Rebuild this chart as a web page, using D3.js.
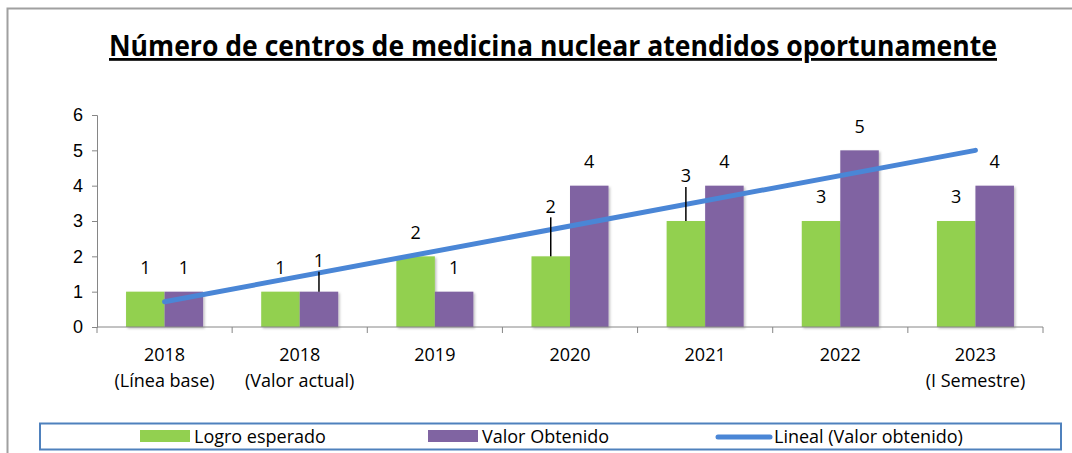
<!DOCTYPE html>
<html>
<head>
<meta charset="utf-8">
<script src="https://cdn.jsdelivr.net/npm/d3@7"></script>
<style>
  body { margin: 0; background: #fff; }
  svg { display: block; font-family: "Open Sans", "Noto Sans", sans-serif; }
</style>
</head>
<body>
<div id="chart"></div>
<script>
// Data
const categories = ["2018|(Línea base)", "2018|(Valor actual)", "2019", "2020", "2021", "2022", "2023|(I Semestre)"];
const logroEsperado = [1, 1, 2, 2, 3, 3, 3];
const valorObtenido = [1, 1, 1, 4, 4, 5, 4];
const yTicks = [0, 1, 2, 3, 4, 5, 6];
const seriesNames = ["Logro esperado", "Valor Obtenido", "Lineal (Valor obtenido)"];
const titleText = "Número de centros de medicina nuclear atendidos oportunamente";

const colors = { logro: "#92d050", valor: "#8064a2", trend: "#4a86d6", axis: "#868686" };

const width = 1072, height = 453;
const ctr = { left: 97, right: 1043, top: 115, bottom: 327 };

const svg = d3.select("#chart").append("svg").attr("width", width).attr("height", height);

// outer frame (top + left only visible)
svg.append("path")
  .attr("d", `M7.5,${height} V8.5 H${width}`)
  .attr("fill", "none").attr("stroke", "#a0a0a0").attr("stroke-width", 2);

// Title
svg.append("text")
  .attr("x", 553).attr("y", 56)
  .attr("text-anchor", "middle")
  .attr("textLength", 888).attr("lengthAdjust", "spacingAndGlyphs")
  .style("font-size", "28px").style("font-weight", "bold")
  .style("text-decoration", "underline")
  .text(titleText);

// Scales
const x0 = d3.scaleBand().domain(categories).range([ctr.left, ctr.right]).paddingInner(0.43).paddingOuter(0.215);
const x1 = d3.scaleBand().domain(["logro", "valor"]).range([0, x0.bandwidth()]);
const yScale = d3.scaleLinear().domain([0, 6]).range([ctr.bottom, ctr.top]);

const step = (ctr.right - ctr.left) / categories.length;
const center = (c) => x0(c) + x0.bandwidth() / 2;

// shadow filter for bars
const defs = svg.append("defs");
const f = defs.append("filter").attr("id", "shadow").attr("x", "-20%").attr("y", "-20%").attr("width", "150%").attr("height", "150%");
f.append("feDropShadow").attr("dx", 1.5).attr("dy", 1.5).attr("stdDeviation", 1.2).attr("flood-color", "#000").attr("flood-opacity", 0.25);

// Bars
const groups = svg.append("g").selectAll("g")
  .data(categories.map((c, i) => ({ c, logro: logroEsperado[i], valor: valorObtenido[i] })))
  .join("g")
  .attr("transform", (d) => `translate(${x0(d.c)},0)`);

groups.selectAll("rect")
  .data((d) => [{ k: "logro", v: d.logro }, { k: "valor", v: d.valor }])
  .join("rect")
  .attr("x", (d) => x1(d.k))
  .attr("y", (d) => yScale(d.v))
  .attr("width", x1.bandwidth())
  .attr("height", (d) => yScale(0) - yScale(d.v))
  .attr("fill", (d) => colors[d.k])
  .attr("filter", "url(#shadow)");

// Axes
const yAxis = d3.axisLeft(yScale).tickValues(yTicks).tickSize(5).tickPadding(9).tickFormat(d3.format("d"));
const yg = svg.append("g").attr("transform", `translate(${ctr.left},0)`).call(yAxis);
yg.selectAll("path, line").attr("stroke", colors.axis);
yg.selectAll("text").style("font-size", "18px").attr("fill", "#000");

const xg = svg.append("g").attr("transform", `translate(0,${ctr.bottom})`);
xg.append("line").attr("x1", ctr.left).attr("x2", ctr.right).attr("stroke", colors.axis);
xg.selectAll(".tick")
  .data(d3.range(categories.length + 1))
  .join("line")
  .attr("x1", (i) => ctr.left + i * step).attr("x2", (i) => ctr.left + i * step)
  .attr("y1", 0).attr("y2", 6).attr("stroke", colors.axis);
xg.selectAll("text")
  .data(categories)
  .join("text")
  .attr("x", (c) => center(c))
  .attr("text-anchor", "middle")
  .style("font-size", "18px")
  .selectAll("tspan")
  .data((c) => c.split("|").map((t) => ({ t, c })))
  .join("tspan")
  .attr("x", (d) => center(d.c))
  .attr("y", (d, i) => 34 + i * 26)
  .text((d) => d.t);

// Trend line (linear regression of Valor Obtenido)
const xs = valorObtenido.map((d, i) => i + 1);
const mx = d3.mean(xs), my = d3.mean(valorObtenido);
const slope = d3.sum(xs, (xv, i) => (xv - mx) * (valorObtenido[i] - my)) / d3.sum(xs, (xv) => (xv - mx) ** 2);
const intercept = my - slope * mx;
const trend = [0, categories.length - 1].map((i) => [center(categories[i]), yScale(intercept + slope * (i + 1))]);
svg.append("path")
  .attr("d", d3.line()(trend))
  .attr("stroke", colors.trend).attr("stroke-width", 5).attr("stroke-linecap", "round").attr("fill", "none");

// Data labels (some moved up with leader lines)
const labelLift = { logro: [0, 0, 0, 26, 21, 0, 0], valor: [0, 7, 0, 0, 0, 0, 0] };
const labels = svg.append("g");
categories.forEach((c, i) => {
  [["logro", logroEsperado[i]], ["valor", valorObtenido[i]]].forEach(([k, v]) => {
    const lx = x0(c) + x1(k) + x1.bandwidth() / 2;
    const top = yScale(v);
    const lift = labelLift[k][i];
    const ly = top - 24 - lift;
    labels.append("text")
      .attr("x", lx).attr("y", ly)
      .attr("text-anchor", "middle").attr("dy", "0.35em")
      .style("font-size", "18px")
      .text(v);
    if (lift > 0) {
      labels.append("line")
        .attr("x1", lx).attr("x2", lx)
        .attr("y1", ly + 11).attr("y2", top)
        .attr("stroke", "#000").attr("stroke-width", 1.5);
    }
  });
});

// Legend
const lg = svg.append("g");
lg.append("rect")
  .attr("x", 40).attr("y", 423.5).attr("width", 1021).attr("height", 26)
  .attr("fill", "none").attr("stroke", "#4f81bd").attr("stroke-width", 2);
const legendItems = [
  { name: seriesNames[0], x: 140, type: "rect", color: colors.logro },
  { name: seriesNames[1], x: 428, type: "rect", color: colors.valor },
  { name: seriesNames[2], x: 716, type: "line", color: colors.trend },
];
legendItems.forEach((d) => {
  if (d.type === "rect") {
    lg.append("rect").attr("x", d.x).attr("y", 430).attr("width", 50).attr("height", 12).attr("fill", d.color);
  } else {
    lg.append("line").attr("x1", d.x + 2).attr("x2", d.x + 54).attr("y1", 437).attr("y2", 437)
      .attr("stroke", d.color).attr("stroke-width", 5).attr("stroke-linecap", "round");
  }
  lg.append("text").attr("x", d.x + (d.type === "rect" ? 54 : 58)).attr("y", 437).attr("dy", "0.35em")
    .style("font-size", "18px").text(d.name);
});
</script>
</body>
</html>
